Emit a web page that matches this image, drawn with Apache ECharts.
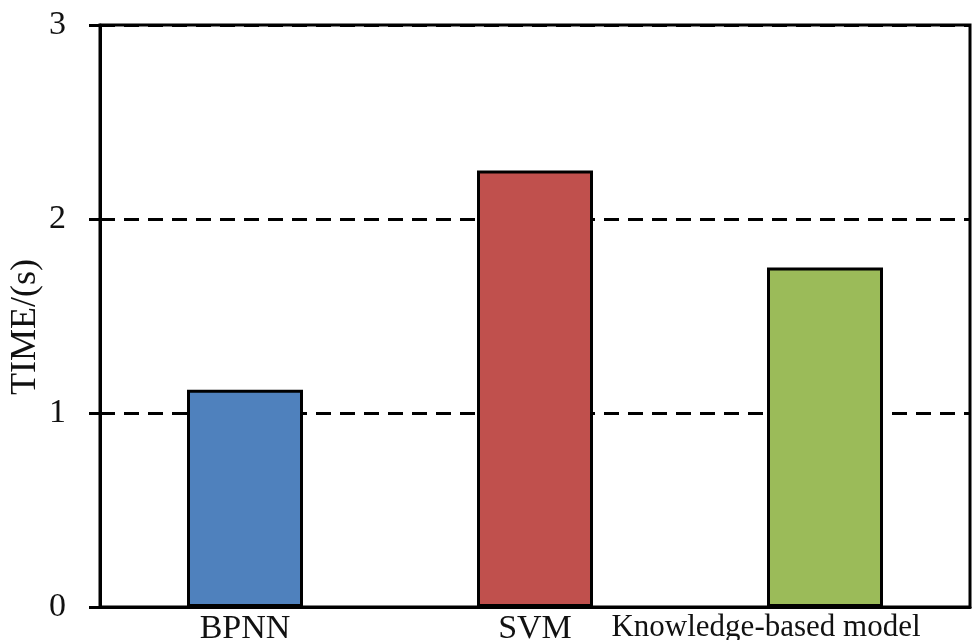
<!DOCTYPE html>
<html>
<head>
<meta charset="utf-8">
<script src="https://cdn.jsdelivr.net/npm/echarts@6/dist/echarts.min.js"></script>
<style>html,body{margin:0;padding:0;background:#fff;}#c{width:975px;height:640px;}</style>
</head>
<body>
<div id="c"></div>
<script>
var categories = ['BPNN', 'SVM', 'Knowledge-based model'];
var times = [1.12, 2.25, 1.75];
var barColors = ['#4F81BD', '#C0504D', '#9BBB59'];
var yTicks = [0, 1, 2, 3];

var FONT = "'Liberation Serif', 'Times New Roman', serif";
var chart = echarts.init(document.getElementById('c'), null, {renderer: 'canvas'});
chart.setOption({
  animation: false,
  backgroundColor: '#fff',
  grid: {left: 100, right: 5, top: 25, bottom: 33, show: true, borderColor: '#000', borderWidth: 3,
         backgroundColor: 'transparent', containLabel: false, outerBoundsMode: 'none'},
  xAxis: {
    type: 'category',
    data: categories.map(function (c, i) {
      return i === 2 ? {value: c, textStyle: {padding: [0, 118, 0, 0], fontSize: 31}} : c;
    }),
    axisLine: {lineStyle: {color: '#000', width: 3}},
    axisTick: {show: false},
    axisLabel: {color: '#111', fontFamily: FONT, fontSize: 34, margin: 5, interval: 0}
  },
  yAxis: [{
    type: 'value',
    min: yTicks[0], max: yTicks[yTicks.length - 1], interval: 1,
    name: 'TIME/(s)',
    nameLocation: 'middle',
    nameGap: 56,
    nameMoveOverlap: false,
    nameTextStyle: {color: '#111', fontFamily: FONT, fontSize: 36, padding: [0, 22, 0, 0]},
    axisLine: {show: true, lineStyle: {color: '#000', width: 3}},
    axisTick: {show: true, inside: false, length: 11, lineStyle: {color: '#000', width: 3}},
    axisLabel: {color: '#111', fontFamily: FONT, fontSize: 34, margin: 34},
    splitLine: {show: true, lineStyle: {color: '#000', width: 3, type: [15, 9]}}
  }, {
    type: 'value',
    position: 'left',
    min: yTicks[0], max: yTicks[yTicks.length - 1], interval: 1,
    axisLine: {show: false},
    axisTick: {show: true, inside: true, length: 14, lineStyle: {color: '#000', width: 3}},
    axisLabel: {show: false},
    splitLine: {show: false}
  }],
  series: [{
    type: 'bar',
    yAxisIndex: 0,
    barWidth: 116,
    data: times.map(function (v, i) {
      return {value: v, itemStyle: {color: barColors[i]}};
    }),
    itemStyle: {borderColor: '#000', borderWidth: 3}
  }]
});
</script>
</body>
</html>
